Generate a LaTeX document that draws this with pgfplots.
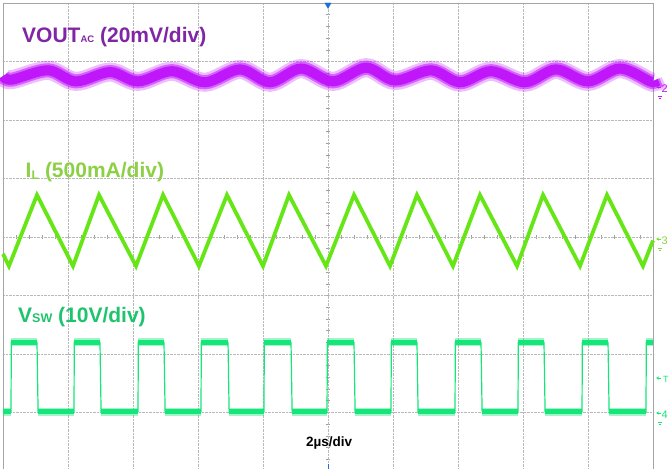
\documentclass[border=0pt]{standalone}
\usepackage{pgfplots}
\pgfplotsset{compat=1.18}
\usepackage{pgfplotstable}
\usepackage{fontspec}
\setmainfont{Liberation Sans}
\usetikzlibrary{arrows.meta}

\definecolor{gridgray}{RGB}{185,185,185}
\definecolor{bordergray}{RGB}{165,165,165}
\definecolor{tickgray}{RGB}{160,160,160}
\definecolor{voutc}{RGB}{192,22,250}
\definecolor{voutlab}{RGB}{128,38,165}
\definecolor{ilc}{RGB}{102,230,22}
\definecolor{illab}{RGB}{140,208,70}
\definecolor{vswc}{RGB}{22,230,122}
\definecolor{vswlab}{RGB}{30,195,110}
\definecolor{trigblue}{RGB}{30,110,220}

% x in divisions (2 us/div), y in divisions
\pgfplotstableread{
x y
0 2.75
0.138 2.69
0.692 2.85
1.123 2.66
1.646 2.82
2.077 2.66
2.6 2.835
3.108 2.645
3.646 2.865
4.108 2.645
4.585 2.88
5.077 2.66
5.585 2.895
6.031 2.675
6.585 2.85
7.031 2.645
7.508 2.835
8.031 2.645
8.508 2.865
9.0 2.66
9.492 2.88
9.954 2.66
10 2.665
}\vout

\pgfplotstableread{
x y
0 -0.29
0.092 -0.496
0.523 0.718
1.077 -0.496
1.477 0.718
2.046 -0.496
2.462 0.718
3.015 -0.496
3.446 0.718
4.0 -0.496
4.4 0.718
4.969 -0.496
5.4 0.718
5.954 -0.496
6.369 0.718
6.923 -0.496
7.338 0.718
7.908 -0.496
8.308 0.718
8.877 -0.496
9.292 0.718
9.846 -0.496
10 -0.06
}\il

\pgfplotstableread{
x y
0 -2.986
0.123 -2.986
0.128 -1.803
0.523 -1.803
0.540 -2.986
1.092 -2.986
1.097 -1.803
1.492 -1.803
1.509 -2.986
2.077 -2.986
2.082 -1.803
2.477 -1.803
2.494 -2.986
3.046 -2.986
3.051 -1.803
3.462 -1.803
3.479 -2.986
4.015 -2.986
4.020 -1.803
4.431 -1.803
4.448 -2.986
4.985 -2.986
4.990 -1.803
5.4 -1.803
5.417 -2.986
5.969 -2.986
5.974 -1.803
6.369 -1.803
6.386 -2.986
6.954 -2.986
6.959 -1.803
7.354 -1.803
7.371 -2.986
7.923 -2.986
7.928 -1.803
8.323 -1.803
8.340 -2.986
8.908 -2.986
8.913 -1.803
9.308 -1.803
9.325 -2.986
9.892 -2.986
9.897 -1.803
10 -1.803
}\vsw

\pgfplotstableread{
x y
0 -2.986
0.123 -2.986
nan nan
0.128 -1.803
0.523 -1.803
nan nan
0.540 -2.986
1.092 -2.986
nan nan
1.097 -1.803
1.492 -1.803
nan nan
1.509 -2.986
2.077 -2.986
nan nan
2.082 -1.803
2.477 -1.803
nan nan
2.494 -2.986
3.046 -2.986
nan nan
3.051 -1.803
3.462 -1.803
nan nan
3.479 -2.986
4.015 -2.986
nan nan
4.020 -1.803
4.431 -1.803
nan nan
4.448 -2.986
4.985 -2.986
nan nan
4.990 -1.803
5.4 -1.803
nan nan
5.417 -2.986
5.969 -2.986
nan nan
5.974 -1.803
6.369 -1.803
nan nan
6.386 -2.986
6.954 -2.986
nan nan
6.959 -1.803
7.354 -1.803
nan nan
7.371 -2.986
7.923 -2.986
nan nan
7.928 -1.803
8.323 -1.803
nan nan
8.340 -2.986
8.908 -2.986
nan nan
8.913 -1.803
9.308 -1.803
nan nan
9.325 -2.986
9.892 -2.986
nan nan
9.897 -1.803
10 -1.803
}\vswlevels

\begin{document}
\begin{tikzpicture}[x=1pt,y=1pt]
\path[use as bounding box] (-3,2) rectangle (667,471);

% centre cross with small division ticks
\begin{axis}[
  at={(0,0)}, anchor=south west,
  scale only axis, width=650pt, height=468pt,
  xmin=-5, xmax=5, ymin=-4, ymax=4,
  axis x line*=middle, axis y line*=middle,
  axis line style={draw=none},
  xtick={-4.8,-4.6,...,4.9}, ytick={-3.8,-3.6,...,3.9},
  xticklabels={}, yticklabels={},
  tick align=center, major tick length=4pt,
  tick style={draw=tickgray, line width=0.6pt},
]
\end{axis}

\begin{axis}[
  at={(0,0)}, anchor=south west,
  scale only axis, width=650pt, height=468pt,
  xmin=0, xmax=10, ymin=-4, ymax=4,
  xtick={0,...,10}, ytick={-4,...,4},
  xticklabels={}, yticklabels={},
  major tick length=0pt,
  grid=major,
  major grid style={draw=gridgray, densely dotted, line width=0.7pt},
  axis line style={draw=bordergray, line width=0.9pt},
  clip=false,
  unbounded coords=jump,
]
% VOUT ripple, noisy band
\addplot[smooth, tension=0.55, voutc, line width=19pt, opacity=0.28, line cap=butt] table {\vout};
\addplot[smooth, tension=0.55, voutc, line width=14pt, opacity=0.55, line cap=butt] table {\vout};
\addplot[smooth, tension=0.55, voutc, line width=10pt, line cap=butt] table {\vout};
% inductor current
\addplot[ilc, line width=3.8pt, line join=miter, line cap=butt] table {\il};
% switch node
\addplot[vswc, line width=1.2pt] table {\vsw};
\addplot[vswc, line width=8pt, opacity=0.4, line cap=butt] table {\vswlevels};
\addplot[vswc, line width=4.5pt, line cap=butt] table {\vswlevels};
% trigger position marker
\addplot[only marks, mark=triangle*, mark size=3.6pt, mark options={rotate=180, fill=trigblue, draw=trigblue}] coordinates {(5,3.97)};
\end{axis}

% labels
\node[anchor=base west, inner sep=0pt, text=voutlab, font=\fontsize{21}{21}\selectfont\bfseries]
  at (19,428) {VOUT{\fontsize{9.5}{10}\selectfont AC} (20mV/div)};
\node[anchor=base west, inner sep=0pt, text=illab, font=\fontsize{21}{21}\selectfont\bfseries]
  at (22.5,293) {I\raisebox{-1.5pt}{\fontsize{12.5}{13}\selectfont L} (500mA/div)};
\node[anchor=base west, inner sep=0pt, text=vswlab, font=\fontsize{21}{21}\selectfont\bfseries]
  at (15,148) {V{\fontsize{12.5}{13}\selectfont SW} (10V/div)};
\node[anchor=base west, inner sep=0pt, text=black, font=\fontsize{13.5}{14}\selectfont\bfseries]
  at (303,24) {2µs/div};

% channel markers at the right edge
\draw[voutc, line width=0.8pt, -{Stealth[length=3pt,width=3pt]}] (658,384) -- (653,384);
\node[anchor=base west, inner sep=0pt, text=voutc, font=\fontsize{11}{11}\selectfont] at (658.5,378) {2};
\draw[voutc, line width=0.5pt] (655,375)--(659,375) (656,373)--(658,373);
\draw[ilc, line width=0.8pt, -{Stealth[length=3pt,width=3pt]}] (658,232) -- (653,232);
\node[anchor=base west, inner sep=0pt, text=illab, font=\fontsize{11}{11}\selectfont] at (658.5,226) {3};
\draw[illab, line width=0.5pt] (655,223)--(659,223) (656,221)--(658,221);
\draw[vswc, line width=0.8pt, -{Stealth[length=3pt,width=3pt]}] (658,93) -- (653,93);
\node[anchor=base west, inner sep=0pt, text=vswc, font=\fontsize{9}{9}\selectfont] at (660,88) {T};
\draw[vswc, line width=0.8pt, -{Stealth[length=3pt,width=3pt]}] (658,58) -- (653,58);
\node[anchor=base west, inner sep=0pt, text=vswc, font=\fontsize{11}{11}\selectfont] at (658.5,52) {4};
\draw[vswc, line width=0.5pt] (655,49)--(659,49) (656,47)--(658,47);
% bottom trigger marker
\draw[trigblue, line width=0.9pt] (325,7) -- (325,2);
\end{tikzpicture}
\end{document}
